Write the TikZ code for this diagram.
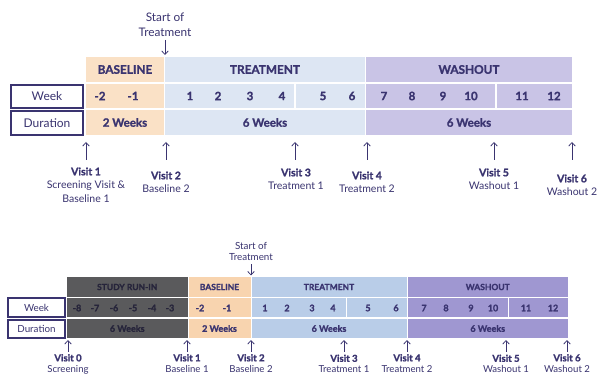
\documentclass[tikz,border=0pt]{standalone}
\usepackage{fontspec}
\setmainfont{Lato}[BoldFeatures={FakeBold=1.4}]
\usetikzlibrary{arrows.meta}
\definecolor{ink}{HTML}{3A3470}
\definecolor{dink}{HTML}{26243A}
\definecolor{baseA}{HTML}{FAE1C6}
\definecolor{treatA}{HTML}{DDE6F3}
\definecolor{washA}{HTML}{C9C4E6}
\definecolor{baseB}{HTML}{F8D4AF}
\definecolor{treatB}{HTML}{B9CDE8}
\definecolor{washB}{HTML}{9F97D1}
\definecolor{runB}{HTML}{5A5A5C}
\tikzset{
  cell/.style={rectangle, inner sep=0pt, draw=none, text=ink},
  lbl/.style={rectangle, draw=ink, line width=1.1pt, inner sep=0pt, text=ink},
  arr/.style={draw=ink, line width=0.75pt, -{Straight Barb[length=3.5pt,width=6.5pt]}},
  hdA/.style={font=\fontsize{11.8}{13}\selectfont\bfseries, text=ink},
  wkA/.style={font=\fontsize{11.5}{13}\selectfont\bfseries, text=ink},
  visA/.style={align=center, text=ink, font=\fontsize{10.5}{13.5}\selectfont, anchor=north},
  hdB/.style={font=\fontsize{8.5}{10}\selectfont\bfseries, text=ink},
  wkB/.style={font=\fontsize{9}{10}\selectfont\bfseries, text=ink},
  visB/.style={align=center, text=ink, font=\fontsize{9.6}{11}\selectfont, anchor=north, inner sep=1pt},
}
\begin{document}
\begin{tikzpicture}[x=1pt,y=-1pt]
\useasboundingbox[fill=white] (0,0) rectangle (597,379);

%================ TOP DIAGRAM =================
% header row
\node[cell, fill=baseA, minimum width=78pt, minimum height=25pt, hdA] (aBh) at (125,69.5) {BASELINE};
\node[cell, fill=treatA, minimum width=200pt, minimum height=25pt, hdA] (aTh) at (265,69.5) {TREATMENT};
\node[cell, fill=washA, minimum width=206pt, minimum height=25pt, hdA] (aWh) at (469,69.5) {WASHOUT};
% week row
\node[cell, fill=baseA, minimum width=78pt, minimum height=24pt] (aBw) at (125,96) {};
\node[cell, fill=treatA, minimum width=129pt, minimum height=24pt] (aTw1) at (229.5,96) {};
\node[cell, fill=treatA, minimum width=69pt, minimum height=24pt] (aTw2) at (330.5,96) {};
\node[cell, fill=washA, minimum width=129pt, minimum height=24pt] (aWw1) at (430.5,96) {};
\node[cell, fill=washA, minimum width=75pt, minimum height=24pt] (aWw2) at (534.5,96) {};
% duration row
\node[cell, fill=baseA, minimum width=78pt, minimum height=25pt, wkA] (aBd) at (125,122.5) {2 Weeks};
\node[cell, fill=treatA, minimum width=200pt, minimum height=25pt, wkA] (aTd) at (265,122.5) {6 Weeks};
\node[cell, fill=washA, minimum width=206pt, minimum height=25pt, wkA] (aWd) at (469,122.5) {6 Weeks};
% labels
\node[lbl, minimum width=72pt, minimum height=23pt, font=\fontsize{12}{13}\selectfont] (aWk) at (47,96.5) {Week};
\node[lbl, minimum width=72pt, minimum height=24pt, font=\fontsize{12}{13}\selectfont] (aDu) at (47,123) {Duration};
% week numbers
\foreach \x/\l [count=\i] in {100/-2,133/-1,190/1,218/2,250/3,282/4,323/5,352/6,384/7,412/8,443/9,471/10,522/11,554/12}
  \node[wkA] (aw\i) at (\x,96) {\l};
% start of treatment
\node[align=center, text=ink, font=\fontsize{11.8}{15}\selectfont] (aSt) at (165,24.5) {Start of\\Treatment};
\coordinate (aStE) at (165,55);
\draw[arr] (aSt.south) -- (aStE);
% visits
\node[visA] (av1) at (86,164) {\textbf{Visit 1}\\Screening Visit \&\\Baseline 1};
\node[visA] (av2) at (166,168) {\textbf{Visit 2}\\Baseline 2};
\node[visA] (av3) at (296,165) {\textbf{Visit 3}\\Treatment 1};
\node[visA] (av4) at (367,168) {\textbf{Visit 4}\\Treatment 2};
\node[visA] (av5) at (494,165) {\textbf{Visit 5}\\Washout 1};
\node[visA] (av6) at (572,171) {\textbf{Visit 6}\\Washout 2};
\foreach \x [count=\i] in {86,166,295,367,494,572}{
  \coordinate (as\i) at (\x,160);
  \coordinate (ae\i) at (\x,142);
  \draw[arr] (as\i) -- (ae\i);
}

%================ BOTTOM DIAGRAM =================
\node[cell, fill=runB, minimum width=120.5pt, minimum height=20pt, hdB, text=dink] (bRh) at (127.25,287) {STUDY RUN-IN};
\node[cell, fill=baseB, minimum width=62pt, minimum height=20pt, hdB] (bBh) at (219.5,287) {BASELINE};
\node[cell, fill=treatB, minimum width=155pt, minimum height=20pt, hdB] (bTh) at (329,287) {TREATMENT};
\node[cell, fill=washB, minimum width=160.5pt, minimum height=20pt, hdB] (bWh) at (487.75,287) {WASHOUT};
% week row
\node[cell, fill=runB, minimum width=120.5pt, minimum height=19pt] (bRw) at (127.25,308) {};
\node[cell, fill=baseB, minimum width=62pt, minimum height=19pt] (bBw) at (219.5,308) {};
\node[cell, fill=treatB, minimum width=94pt, minimum height=19pt] (bTw1) at (298.5,308) {};
\node[cell, fill=treatB, minimum width=60pt, minimum height=19pt] (bTw2) at (376.5,308) {};
\node[cell, fill=washB, minimum width=100pt, minimum height=19pt] (bWw1) at (457.5,308) {};
\node[cell, fill=washB, minimum width=59.5pt, minimum height=19pt] (bWw2) at (538.25,308) {};
% duration row
\node[cell, fill=runB, minimum width=120.5pt, minimum height=19pt, wkB, text=dink] (bRd) at (127.25,328.5) {6 Weeks};
\node[cell, fill=baseB, minimum width=62pt, minimum height=19pt, wkB] (bBd) at (219.5,328.5) {2 Weeks};
\node[cell, fill=treatB, minimum width=155pt, minimum height=19pt, wkB] (bTd) at (329,328.5) {6 Weeks};
\node[cell, fill=washB, minimum width=160.5pt, minimum height=19pt, wkB] (bWd) at (487.75,328.5) {6 Weeks};
% labels
\node[lbl, minimum width=57pt, minimum height=19pt, font=\fontsize{9.8}{11}\selectfont] (bWk) at (36.5,307.5) {Week};
\node[lbl, minimum width=57pt, minimum height=18pt, font=\fontsize{9.8}{11}\selectfont] (bDu) at (36.5,329) {Duration};
% week numbers
\foreach \x/\l [count=\i] in {77/-8,95/-7,114/-6,133/-5,152/-4,170/-3}
  \node[wkB, text=dink] (bwr\i) at (\x,308) {\l};
\foreach \x/\l [count=\i] in {200/-2,227/-1,265/1,287/2,312/3,333/4,368/5,396/6,424/7,446/8,471/9,493/10,526/11,553/12}
  \node[wkB] (bw\i) at (\x,308) {\l};
% start of treatment
\node[align=center, text=ink, font=\fontsize{9.8}{11.5}\selectfont] (bSt) at (251,251.5) {Start of\\Treatment};
\coordinate (bStE) at (251,275.5);
\draw[arr] (bSt.south) -- (bStE);
% visits
\node[visB] (bv0) at (68,353) {\textbf{Visit 0}\\Screening};
\node[visB] (bv1) at (187,353) {\textbf{Visit 1}\\Baseline 1};
\node[visB] (bv2) at (251,353) {\textbf{Visit 2}\\Baseline 2};
\node[visB] (bv3) at (344,353.5) {\textbf{Visit 3}\\Treatment 1};
\node[visB] (bv4) at (407,353) {\textbf{Visit 4}\\Treatment 2};
\node[visB] (bv5) at (506,353.5) {\textbf{Visit 5}\\Washout 1};
\node[visB] (bv6) at (567,353) {\textbf{Visit 6}\\Washout 2};
\foreach \x [count=\i] in {68,187,251,344,407,506,567}{
  \coordinate (bs\i) at (\x,351.5);
  \coordinate (be\i) at (\x,340);
  \draw[arr] (bs\i) -- (be\i);
}
\end{tikzpicture}
\end{document}
